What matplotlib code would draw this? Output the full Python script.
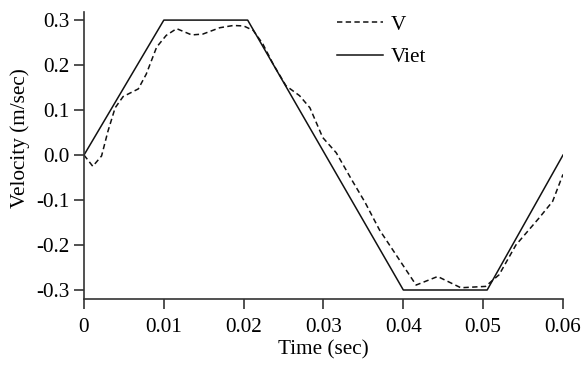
import matplotlib
matplotlib.use("Agg")
import matplotlib.pyplot as plt

plt.rcParams['font.family'] = ['Liberation Serif', 'DejaVu Serif']

# Reference (Viet) trapezoidal velocity
t_viet = [0.0, 0.010, 0.0205, 0.040, 0.0505, 0.060]
v_viet = [0.0, 0.30, 0.30, -0.30, -0.30, 0.0]

# Measured velocity V
t_v = [0.0, 0.0011, 0.0022, 0.0030, 0.0039, 0.0049, 0.0068, 0.0078, 0.0091, 0.0103,
       0.0116, 0.0135, 0.0149, 0.0170, 0.0187, 0.0200, 0.0212, 0.0224, 0.0237, 0.0253,
       0.0270, 0.0283, 0.0299, 0.0316, 0.0335, 0.0352, 0.0370, 0.0416, 0.0443, 0.0472,
       0.0503, 0.0520, 0.0541, 0.0570, 0.0587, 0.0600]
v_v = [0.0, -0.025, -0.002, 0.053, 0.105, 0.130, 0.147, 0.180, 0.240, 0.266,
       0.281, 0.267, 0.269, 0.283, 0.288, 0.287, 0.277, 0.247, 0.202, 0.154,
       0.132, 0.105, 0.039, 0.005, -0.054, -0.105, -0.166, -0.289, -0.270, -0.295,
       -0.292, -0.266, -0.200, -0.140, -0.103, -0.043]

x_ticks = [0, 0.01, 0.02, 0.03, 0.04, 0.05, 0.06]
x_labels = ['0', '0.01', '0.02', '0.03', '0.04', '0.05', '0.06']
y_ticks = [-0.3, -0.2, -0.1, 0.0, 0.1, 0.2, 0.3]
y_labels = ['-0.3', '-0.2', '-0.1', '0.0', '0.1', '0.2', '0.3']

fig = plt.figure(figsize=(5.82, 3.65), dpi=100)
ax = fig.add_axes([84/582, 66/365, 479/582, 287/365])

fs = 15.3
ax.plot(t_v, v_v, color='#111111', lw=1.1, linestyle=(0, (3.5, 2.2)), label='V')
ax.plot(t_viet, v_viet, color='#111111', lw=1.1, label='Viet')

ax.set_xlim(0, 0.06)
ax.set_ylim(-0.32, 0.318)
ax.set_xticks(x_ticks)
ax.set_xticklabels(x_labels, fontsize=fs)
ax.set_yticks(y_ticks)
ax.set_yticklabels(y_labels, fontsize=fs)
ax.set_xlabel('Time (sec)', fontsize=fs, labelpad=2)
ax.set_ylabel('Velocity (m/sec)', fontsize=fs)
ax.yaxis.set_label_coords((30 - 84) / 479, (299 - 138.5) / 287)

for s in ['top', 'right']:
    ax.spines[s].set_visible(False)
for s in ['left', 'bottom']:
    ax.spines[s].set_color('#333333')
    ax.spines[s].set_linewidth(1.2)
ax.tick_params(axis='both', direction='out', length=7, width=1.2, color='#333333')
ax.tick_params(axis='x', pad=7)
ax.tick_params(axis='y', pad=3.5)

leg = ax.legend(loc='upper left', bbox_to_anchor=(337/582, 1 - 15/365),
                bbox_transform=fig.transFigure, frameon=False, fontsize=fs,
                handlelength=2.15, handletextpad=0.4, labelspacing=0.6,
                borderpad=0, borderaxespad=0)

fig.savefig('out.png', dpi=100)
